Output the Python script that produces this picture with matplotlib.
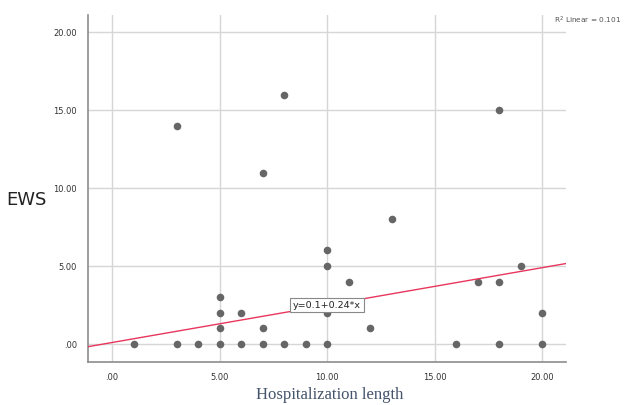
import matplotlib
matplotlib.use("Agg")
import matplotlib.pyplot as plt
import numpy as np

# Data
hosp_length = [1, 3, 3, 4, 5, 5, 5, 5, 6, 6, 7, 7, 7, 8, 8, 9,
               10, 10, 10, 10, 11, 12, 13, 16, 17, 18, 18, 18, 19, 20, 20]
ews = [0, 0, 14, 0, 0, 1, 2, 3, 0, 2, 0, 1, 11, 0, 16, 0,
       0, 2, 5, 6, 4, 1, 8, 0, 4, 0, 4, 15, 5, 0, 2]
intercept = 0.1
slope = 0.24
r2_text = "R$^2$ Linear = 0.101"
eq_text = "y=0.1+0.24*x"
x_ticks = [0, 5, 10, 15, 20]
x_ticklabels = [".00", "5.00", "10.00", "15.00", "20.00"]
y_ticks = [0, 5, 10, 15, 20]
y_ticklabels = [".00", "5.00", "10.00", "15.00", "20.00"]

W, H = 624, 405
fig = plt.figure(figsize=(W / 100, H / 100), dpi=100)
ax = fig.add_axes([88 / W, 1 - 362 / H, (566 - 88) / W, (362 - 15) / H])

xlim = (-1.12, 21.1)
ylim = (-1.15, 21.1)
ax.set_xlim(*xlim)
ax.set_ylim(*ylim)

ax.set_xticks(x_ticks)
ax.set_xticklabels(x_ticklabels)
ax.set_yticks(y_ticks)
ax.set_yticklabels(y_ticklabels)
ax.tick_params(length=0, labelsize=6, colors="#333333", pad=8)
ax.grid(True, color="#d6d6d6", linewidth=1.0)
ax.set_axisbelow(True)
for s in ["top", "right"]:
    ax.spines[s].set_visible(False)
for s in ["left", "bottom"]:
    ax.spines[s].set_color("#8c8c8c")
    ax.spines[s].set_linewidth(1.2)

ax.scatter(hosp_length, ews, s=30, color="#666666", zorder=3, linewidths=0)

xs = np.array(xlim)
ax.plot(xs, intercept + slope * xs, color="#e8365d", linewidth=1.0, zorder=4)

ax.text(10, 2.5, eq_text, fontsize=6.8, ha="center", va="center", color="#222222",
        zorder=5, bbox=dict(boxstyle="square,pad=0.3", facecolor="white",
                            edgecolor="#888888", linewidth=0.8))

fig.text(621 / W, 1 - 20 / H, r2_text, fontsize=5.3, color="#555555",
         ha="right", va="center")

fig.text(26 / W, 1 - 200 / H, "EWS", fontsize=13, color="#222222",
         ha="center", va="center", family="DejaVu Sans")
fig.text(330 / W, 1 - 395 / H, "Hospitalization length", fontsize=12,
         color="#44546a", ha="center", va="center", family="Liberation Serif")

fig.savefig("out.png", dpi=100)
